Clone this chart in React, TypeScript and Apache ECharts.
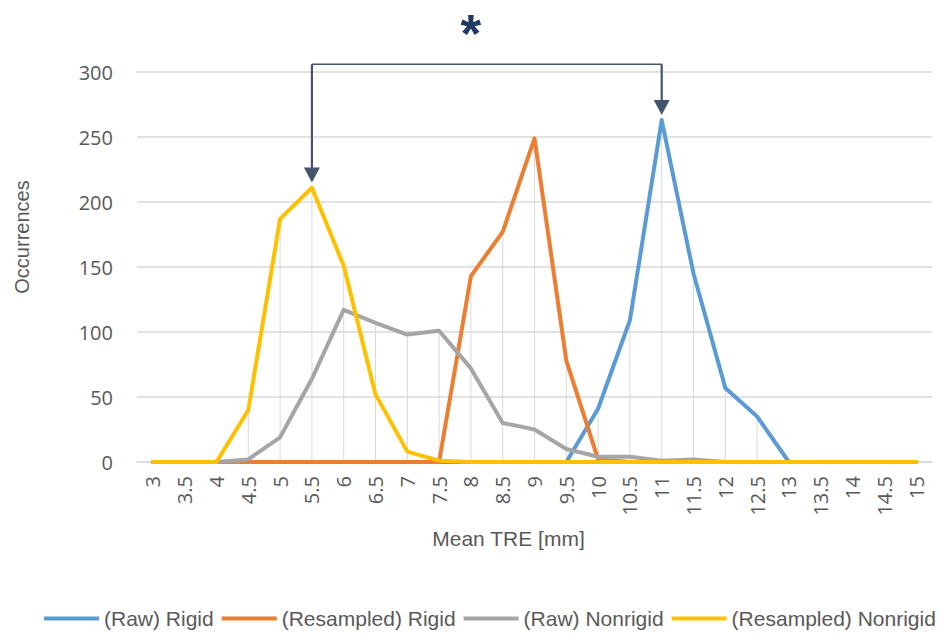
import React, { useEffect, useRef } from "react";
import * as echarts from "echarts";

const categories = ["3","3.5","4","4.5","5","5.5","6","6.5","7","7.5","8","8.5","9","9.5","10","10.5","11","11.5","12","12.5","13","13.5","14","14.5","15"];
const rawRigid = [0,0,0,0,0,0,0,0,0,0,0,0,0,0,41,109,263,145,57,35,0,0,0,0,0];
const resampledRigid = [0,0,0,0,0,0,0,0,0,0,143,177,249,78,2,0,0,0,0,0,0,0,0,0,0];
const rawNonrigid = [0,0,0,2,19,64,117,107,98,101,72,30,25,10,4,4,1,2,0,0,0,0,0,0,0];
const resampledNonrigid = [0,0,0,40,187,211,151,52,8,1,0,0,0,0,0,0,0,0,0,0,0,0,0,0,0];
const seriesNames = ["(Raw) Rigid","(Resampled) Rigid","(Raw) Nonrigid","(Resampled) Nonrigid"];
const colors = ["#5b9bd5","#ed7d31","#a5a5a5","#ffc000"];
const yTicks = { min: 0, max: 300, interval: 50 };
// annotation: bracket between the two compared peaks
const bracket = { left: "5.5", right: "11", top: 306, leftTip: 215, rightTip: 267, starCat: "8", starValue: 330 };

const FONT = "'Open Sans', sans-serif";
const ARIAL = "'Liberation Sans', Arial, sans-serif";

export default function App() {
  const ref = useRef<HTMLDivElement>(null);
  useEffect(() => {
    if (!ref.current) return;
    const chart = echarts.init(ref.current, null, { renderer: "svg" });
    const all = [rawRigid, resampledRigid, rawNonrigid, resampledNonrigid];
    const dropMax = categories.map((_, i) => Math.max(...all.map((s) => s[i])));
    chart.setOption({
      animation: false,
      grid: { left: 137, right: 13, top: 72, bottom: 173, containLabel: false },
      legend: {
        data: seriesNames,
        top: 608,
        left: 44,
        width: 901,
        padding: 0,
        icon: "rect",
        itemWidth: 55,
        itemHeight: 4,
        itemGap: 8,
        textStyle: { color: "#595959", fontSize: 21, fontFamily: ARIAL },
      },
      xAxis: {
        type: "category",
        data: categories,
        boundaryGap: true,
        axisLine: { lineStyle: { color: "#d9d9d9", width: 1.5 } },
        axisTick: { show: false },
        axisLabel: { rotate: 90, interval: 0, color: "#595959", fontSize: 20, fontFamily: FONT, margin: 14 },
        name: "Mean TRE [mm]",
        nameLocation: "middle",
        nameGap: 66,
        nameTextStyle: { color: "#595959", fontSize: 21, fontFamily: ARIAL, padding: [0, 52, 0, 0] },
      },
      yAxis: {
        type: "value",
        min: yTicks.min,
        max: yTicks.max,
        interval: yTicks.interval,
        axisLine: { show: false },
        axisTick: { show: false },
        splitLine: { lineStyle: { color: "#d9d9d9", width: 1.5 } },
        axisLabel: { color: "#595959", fontSize: 20, fontFamily: FONT, margin: 24 },
        name: "Occurrences",
        nameLocation: "middle",
        nameGap: 105,
        nameTextStyle: { color: "#595959", fontSize: 20, fontFamily: ARIAL, padding: [0, 0, 0, 60] },
      },
      series: [
        {
          type: "bar",
          name: "drop",
          data: dropMax,
          barWidth: 1,
          itemStyle: { color: "#d9d9d9" },
          z: 1,
          silent: true,
        },
        ...seriesNames.map((n, k) => ({
          type: "line",
          name: n,
          data: all[k],
          showSymbol: false,
          symbol: "none",
          color: colors[k],
          lineStyle: { color: colors[k], width: 4, cap: "round", join: "round" },
          z: 2 + k,
        })),
      ],
    });
    const px = (c: string, v: number) => chart.convertToPixel({ xAxisIndex: 0, yAxisIndex: 0 }, [c, v]) as number[];
    const tl = px(bracket.left, bracket.top);
    const tr = px(bracket.right, bracket.top);
    const ll = px(bracket.left, bracket.leftTip);
    const rr = px(bracket.right, bracket.rightTip);
    const star = px(bracket.starCat, bracket.starValue);
    const headH = 15, headW = 8;
    const stroke = "#44546a";
    chart.setOption({
      graphic: [
        { type: "line", shape: { x1: tl[0], y1: tl[1], x2: tr[0], y2: tr[1] }, style: { stroke, lineWidth: 1.5 }, z: 100 },
        { type: "line", shape: { x1: tl[0], y1: tl[1], x2: ll[0], y2: ll[1] - headH + 1 }, style: { stroke, lineWidth: 2.2 }, z: 100 },
        { type: "line", shape: { x1: tr[0], y1: tr[1], x2: rr[0], y2: rr[1] - headH + 1 }, style: { stroke, lineWidth: 2.2 }, z: 100 },
        { type: "polygon", shape: { points: [[ll[0] - headW, ll[1] - headH], [ll[0] + headW, ll[1] - headH], [ll[0], ll[1]]] }, style: { fill: stroke }, z: 100 },
        { type: "polygon", shape: { points: [[rr[0] - headW, rr[1] - headH], [rr[0] + headW, rr[1] - headH], [rr[0], rr[1]]] }, style: { fill: stroke }, z: 100 },
        {
          type: "text",
          x: star[0],
          y: star[1],
          style: { text: "*", fill: "#203864", font: "bold 53px 'Liberation Sans', sans-serif", textAlign: "center", textVerticalAlign: "middle" },
          z: 100,
        },
      ],
    });
    return () => chart.dispose();
  }, []);
  return <div ref={ref} style={{ width: 945, height: 635, position: "absolute", left: 0, top: 0 }} />;
}
